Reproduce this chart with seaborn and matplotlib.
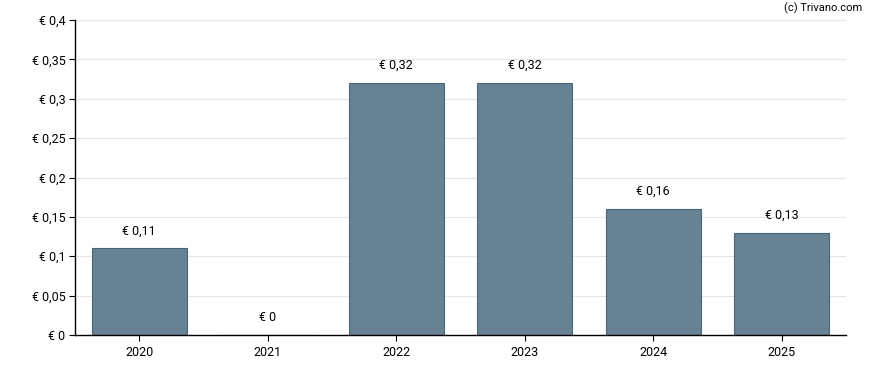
import matplotlib
matplotlib.use("Agg")
import matplotlib.pyplot as plt
import seaborn as sns
import pandas as pd

years = ["2020", "2021", "2022", "2023", "2024", "2025"]
values = [0.11, 0.0, 0.32, 0.32, 0.16, 0.13]
labels = ["€ 0,11", "€ 0", "€ 0,32", "€ 0,32", "€ 0,16", "€ 0,13"]
yticks = [0, 0.05, 0.1, 0.15, 0.2, 0.25, 0.3, 0.35, 0.4]
yticklabels = ["€ 0", "€ 0,05", "€ 0,1", "€ 0,15", "€ 0,2", "€ 0,25", "€ 0,3", "€ 0,35", "€ 0,4"]

sns.set_style("white")
plt.rcParams["font.family"] = ["Roboto", "DejaVu Sans"]

df = pd.DataFrame({"year": years, "value": values})

fig = plt.figure(figsize=(8.88, 3.70), dpi=100)
ax = fig.add_axes([75/888, 1-335/370, (846-75)/888, (335-20)/370])

sns.barplot(data=df, x="year", y="value", ax=ax, color="#678393",
            saturation=1, width=0.74, edgecolor="#4a6576", linewidth=0.8, zorder=2)

ax.set_xlim(-0.5, 5.5)
ax.set_ylim(0, 0.4)
ax.set_yticks(yticks)
ax.set_yticklabels(yticklabels)
ax.set_xlabel("")
ax.set_ylabel("")
ax.yaxis.grid(True, color="#e6e6e6", linewidth=0.8, zorder=0)
ax.set_axisbelow(True)

for s in ["top", "right"]:
    ax.spines[s].set_visible(False)
for s in ["left", "bottom"]:
    ax.spines[s].set_color("black")
    ax.spines[s].set_linewidth(1.0)

ax.tick_params(axis="both", which="both", length=4, width=0.8, color="black",
               labelsize=9, colors="black", left=True, bottom=True)
ax.tick_params(axis="y", pad=3)
ax.tick_params(axis="x", pad=4)

for i, (v, lab) in enumerate(zip(values, labels)):
    ax.annotate(lab, xy=(i, v), xytext=(0, 12.5), textcoords="offset points",
                ha="center", va="center", fontsize=9, color="black")

fig.text(862/888, 1-8/370, "(c) Trivano.com", ha="right", va="center", fontsize=8, color="black")

fig.savefig("out.png", dpi=100)
